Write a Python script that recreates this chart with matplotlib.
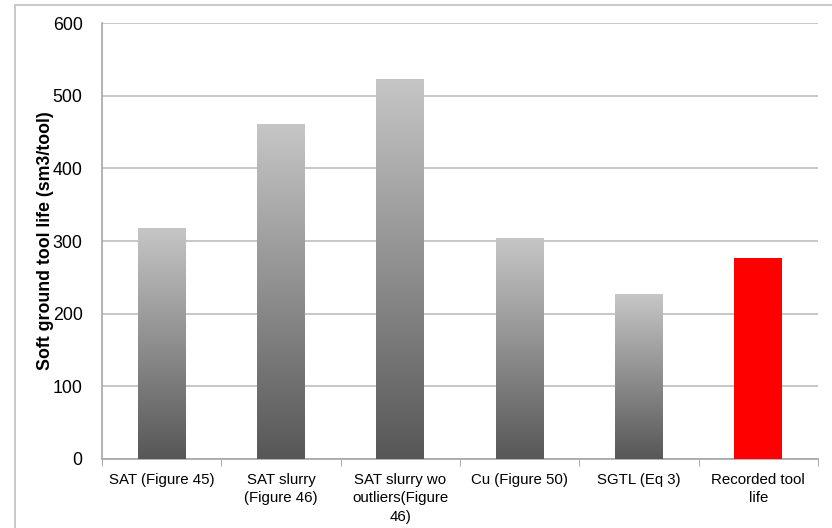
import numpy as np
import matplotlib
matplotlib.use('Agg')
import matplotlib.pyplot as plt
from matplotlib.colors import LinearSegmentedColormap
from matplotlib.patches import Rectangle

plt.rcParams['font.family'] = ['Liberation Sans', 'DejaVu Sans']

# data
categories = ['SAT (Figure 45)', 'SAT slurry\n(Figure 46)', 'SAT slurry wo\noutliers(Figure\n46)',
              'Cu (Figure 50)', 'SGTL (Eq 3)', 'Recorded tool\nlife']
tool_life = [318, 461, 523, 304, 227, 277]
is_recorded = [False, False, False, False, False, True]

fig = plt.figure(figsize=(8.32, 5.28), dpi=100)
ax = fig.add_axes([0.1226, 0.1307, 0.8604, 0.8257])

# light frame round the whole chart
fig.patches.append(Rectangle((15 / 832, -0.01), 1.0, 1 - 5 / 528 + 0.01, transform=fig.transFigure,
                             fill=False, edgecolor='#bfbfbf', linewidth=1.2))

x = np.arange(len(categories))
width = 0.4
grey = LinearSegmentedColormap.from_list('grey', ['#575757', '#c6c6c6'])
grad = np.linspace(0, 1, 256).reshape(-1, 1)

bars = ax.bar(x, tool_life, width=width, color='none', edgecolor='none', zorder=3)
for b, red in zip(bars, is_recorded):
    if red:
        b.set_facecolor('#ff0000')
        continue
    x0, y0 = b.get_x(), b.get_y()
    img = ax.imshow(grad, cmap=grey, origin='lower', aspect='auto', zorder=3,
                    extent=[x0, x0 + b.get_width(), y0, y0 + b.get_height()])
    img.set_clip_path(b)

ax.set_xlim(-0.5, len(categories) - 0.5)
ax.set_ylim(0, 600)
ax.set_yticks(range(0, 601, 100))
ax.yaxis.grid(True, color='#bdbdbd', linewidth=1.2, zorder=0)
ax.set_axisbelow(True)

ax.set_xticks(x)
ax.set_xticklabels(categories, fontsize=10.8, linespacing=1.4)
ax.tick_params(axis='x', length=0, pad=10)
ax.set_xticks(np.arange(-0.5, len(categories)), minor=True)
ax.tick_params(axis='x', which='minor', length=5, color='#9a9a9a', direction='out')
ax.tick_params(axis='y', length=0, labelsize=12.8, pad=14)

for s in ['top', 'right']:
    ax.spines[s].set_visible(False)
ax.spines['left'].set_color('#a6a6a6')
ax.spines['bottom'].set_color('#a6a6a6')
ax.spines['left'].set_linewidth(1.2)
ax.spines['bottom'].set_linewidth(1.2)

ax.set_ylabel('Soft ground tool life (sm3/tool)', fontsize=12.8, fontweight='bold')
ax.yaxis.set_label_coords(-0.067, 0.5)

fig.savefig('out.png', dpi=100)
